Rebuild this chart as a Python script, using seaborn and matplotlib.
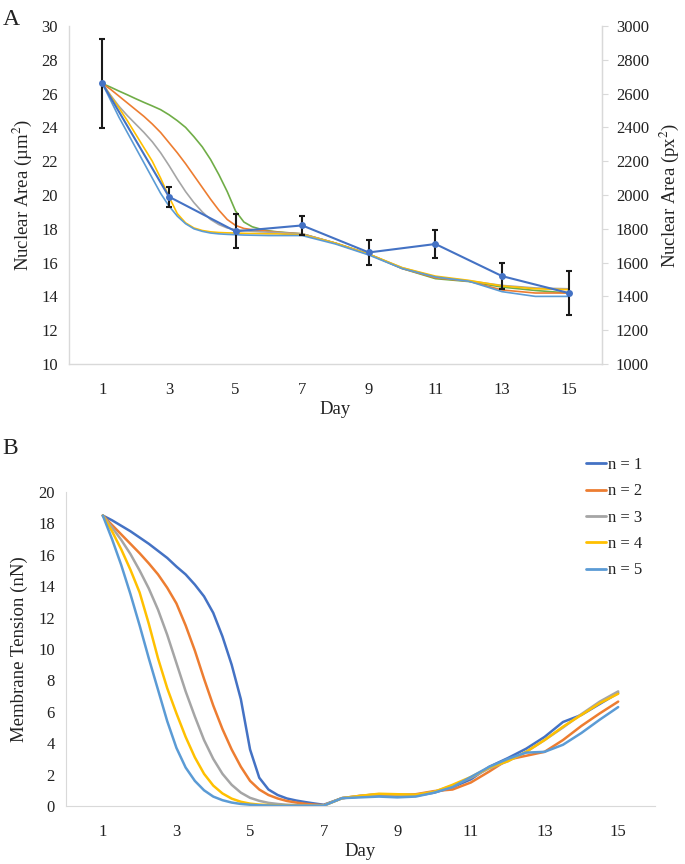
import pandas as pd
import matplotlib
matplotlib.use("Agg")
import matplotlib.pyplot as plt
import seaborn as sns

# ---- Panel A: nuclear area (smoothed model curves + measured means) ----
days_a = [1, 1.25, 1.5, 1.75, 2, 2.25, 2.5, 2.75, 3, 3.25, 3.5, 3.75, 4, 4.25, 4.5, 4.75,
          5, 5.25, 5.5, 5.75, 6, 6.25, 6.5, 6.75, 7, 8, 9, 10, 11, 12, 13, 14, 15]
area_green = [26.6, 26.38, 26.15, 25.93, 25.7, 25.48, 25.27, 25.05, 24.75, 24.4, 24.0, 23.45,
              22.85, 22.1, 21.2, 20.2, 19.05, 18.4, 18.12, 17.98, 17.88, 17.82, 17.78, 17.74,
              17.7, 17.15, 16.5, 15.65, 15.05, 14.88, 14.55, 14.35, 14.2]
area_orange = [26.6, 26.25, 25.85, 25.45, 25.05, 24.65, 24.2, 23.7, 23.1, 22.5, 21.85, 21.15,
               20.45, 19.75, 19.1, 18.55, 18.2, 18.02, 17.95, 17.9, 17.85, 17.8, 17.76, 17.73,
               17.7, 17.15, 16.5, 15.65, 15.1, 14.9, 14.38, 14.2, 14.2]
area_gray = [26.6, 25.9, 25.25, 24.7, 24.2, 23.7, 23.15, 22.5, 21.75, 20.95, 20.2, 19.55,
             19.0, 18.55, 18.25, 18.05, 17.95, 17.9, 17.85, 17.82, 17.8, 17.78, 17.75, 17.72,
             17.7, 17.15, 16.5, 15.7, 15.15, 14.92, 14.65, 14.5, 14.45]
area_yellow = [26.6, 25.85, 25.15, 24.4, 23.6, 22.8, 22.0, 21.0, 19.9, 18.9, 18.35, 18.05,
               17.9, 17.82, 17.78, 17.76, 17.75, 17.73, 17.72, 17.71, 17.7, 17.7, 17.68, 17.66,
               17.65, 17.15, 16.5, 15.7, 15.2, 14.95, 14.62, 14.45, 14.4]
area_ltblue = [26.6, 25.6, 24.6, 23.7, 22.8, 21.9, 21.0, 20.1, 19.35, 18.75, 18.3, 18.0,
               17.85, 17.75, 17.7, 17.67, 17.65, 17.63, 17.62, 17.61, 17.6, 17.6, 17.6, 17.6,
               17.6, 17.1, 16.45, 15.65, 15.15, 14.9, 14.28, 14.0, 14.0]

obs_days = [1, 3, 5, 7, 9, 11, 13, 15]
obs_mean = [26.6, 19.9, 17.85, 18.2, 16.6, 17.1, 15.2, 14.2]
obs_err = [2.65, 0.6, 1.0, 0.58, 0.75, 0.82, 0.75, 1.3]

# ---- Panel B: membrane tension ----
days_b = [1, 1.25, 1.5, 1.75, 2, 2.25, 2.5, 2.75, 3, 3.25, 3.5, 3.75, 4, 4.25, 4.5, 4.75,
          5, 5.25, 5.5, 5.75, 6, 6.25, 6.5, 6.75, 7, 7.5, 8, 8.5, 9, 9.5,
          10, 10.5, 11, 11.5, 12, 12.5, 13, 13.5, 14, 14.5, 15]
tension_n1 = [18.5, 18.2, 17.85, 17.5, 17.1, 16.7, 16.25, 15.8, 15.25, 14.75, 14.1, 13.35,
              12.3, 10.8, 9.0, 6.8, 3.6, 1.8, 1.05, 0.7, 0.48, 0.35, 0.25, 0.16, 0.08,
              0.5, 0.6, 0.68, 0.65, 0.65, 0.85, 1.2, 1.7, 2.5, 3.05, 3.65, 4.4, 5.35, 5.8, 6.5, 7.2]
tension_n2 = [18.5, 17.9, 17.3, 16.7, 16.1, 15.45, 14.75, 13.9, 12.9, 11.5, 9.9, 8.1,
              6.4, 4.9, 3.6, 2.5, 1.6, 1.05, 0.7, 0.48, 0.32, 0.22, 0.14, 0.09, 0.05,
              0.5, 0.65, 0.75, 0.7, 0.75, 0.95, 1.05, 1.5, 2.2, 2.95, 3.2, 3.45, 4.2, 5.1, 5.9, 6.65]
tension_n3 = [18.5, 17.75, 16.95, 16.05, 15.0, 13.85, 12.5, 10.9, 9.1, 7.3, 5.7, 4.2,
              3.0, 2.05, 1.35, 0.85, 0.52, 0.33, 0.2, 0.13, 0.08, 0.06, 0.04, 0.03, 0.03,
              0.5, 0.65, 0.75, 0.72, 0.7, 0.9, 1.3, 1.8, 2.4, 2.85, 3.45, 4.2, 5.0, 5.85, 6.65, 7.3]
tension_n4 = [18.5, 17.5, 16.35, 15.05, 13.6, 11.6, 9.4, 7.5, 5.9, 4.4, 3.1, 2.05,
              1.3, 0.8, 0.47, 0.27, 0.15, 0.09, 0.06, 0.04, 0.03, 0.02, 0.02, 0.02, 0.02,
              0.5, 0.65, 0.78, 0.75, 0.72, 0.9, 1.35, 1.85, 2.45, 2.85, 3.45, 4.2, 5.05, 5.8, 6.55, 7.15]
tension_n5 = [18.5, 17.0, 15.35, 13.5, 11.5, 9.4, 7.4, 5.4, 3.7, 2.45, 1.6, 1.0,
              0.6, 0.37, 0.22, 0.13, 0.08, 0.05, 0.03, 0.02, 0.02, 0.02, 0.02, 0.02, 0.02,
              0.5, 0.55, 0.6, 0.55, 0.6, 0.85, 1.2, 1.85, 2.5, 3.0, 3.4, 3.45, 3.9, 4.65, 5.5, 6.3]
n_labels = ["n = 1", "n = 2", "n = 3", "n = 4", "n = 5"]

day_ticks = [1, 3, 5, 7, 9, 11, 13, 15]

sns.set_style("white")
plt.rcParams['font.family'] = ['Liberation Serif', 'DejaVu Serif']
plt.rcParams['mathtext.fontset'] = 'stix'

fig = plt.figure(figsize=(6.85, 8.64), dpi=100)
grey = "#D9D9D9"
txt = "#222222"
tick_fs = 12
lab_fs = 13.5

# ---------------- Panel A ----------------
axA = fig.add_axes([69 / 685, 1 - 364 / 864, (602 - 69) / 685, (364 - 26) / 864])
dfA = pd.DataFrame({
    "day": days_a * 5,
    "area": area_green + area_orange + area_gray + area_yellow + area_ltblue,
    "curve": (["g"] * len(days_a) + ["o"] * len(days_a) + ["gr"] * len(days_a)
              + ["y"] * len(days_a) + ["lb"] * len(days_a)),
})
palA = {"g": "#70AD47", "o": "#ED7D31", "gr": "#A5A5A5", "y": "#FFC000", "lb": "#5B9BD5"}
sns.lineplot(data=dfA, x="day", y="area", hue="curve", palette=palA, ax=axA,
             linewidth=1.2, legend=False, sort=False)
axA.errorbar(obs_days, obs_mean, yerr=obs_err, fmt="none", ecolor="#1a1a1a",
             elinewidth=1.5, capsize=2.5, capthick=1.5, zorder=4)
sns.lineplot(x=obs_days, y=obs_mean, ax=axA, color="#4472C4", linewidth=1.5,
             marker="o", markersize=5, markeredgewidth=0, zorder=5)

axA.set_xlim(0, 16)
axA.set_ylim(10, 30)
axA.set_xticks(day_ticks)
axA.set_yticks(range(10, 31, 2))
axA.tick_params(axis="both", length=0, labelsize=tick_fs, colors=txt, pad=8)
axA.tick_params(axis="x", pad=13)
axA.set_xlabel("Day", fontsize=lab_fs, color=txt, labelpad=2)
axA.set_ylabel("Nuclear Area (µm$^2$)", fontsize=lab_fs, color=txt, labelpad=5)
axA.spines["top"].set_visible(False)
for s in ["left", "bottom", "right"]:
    axA.spines[s].set_color(grey)
    axA.spines[s].set_linewidth(1)

axA2 = axA.twinx()
axA2.set_ylim(1000, 3000)
axA2.set_yticks(range(1000, 3001, 200))
axA2.tick_params(axis="y", length=4, color=grey, labelsize=tick_fs, labelcolor=txt, pad=6)
axA2.set_ylabel("Nuclear Area (px$^2$)", fontsize=lab_fs, color=txt, labelpad=6)
for s in ["top", "left", "bottom"]:
    axA2.spines[s].set_visible(False)
axA2.spines["right"].set_color(grey)

fig.text(0.004, 0.99, "A", fontsize=17, va="top", ha="left", color=txt)

# ---------------- Panel B ----------------
axB = fig.add_axes([66 / 685, 1 - 806 / 864, (655 - 66) / 685, (806 - 492) / 864])
dfB = pd.DataFrame({
    "day": days_b * 5,
    "tension": tension_n1 + tension_n2 + tension_n3 + tension_n4 + tension_n5,
    "n": sum([[lab] * len(days_b) for lab in n_labels], []),
})
palB = dict(zip(n_labels, ["#4472C4", "#ED7D31", "#A5A5A5", "#FFC000", "#5B9BD5"]))
sns.lineplot(data=dfB, x="day", y="tension", hue="n", palette=palB, ax=axB,
             linewidth=1.8, sort=False)

axB.set_xlim(0, 16)
axB.set_ylim(0, 20)
axB.set_xticks(day_ticks)
axB.set_yticks(range(0, 21, 2))
axB.tick_params(axis="both", length=0, labelsize=tick_fs, colors=txt, pad=8)
axB.tick_params(axis="x", pad=13)
axB.set_xlabel("Day", fontsize=lab_fs, color=txt, labelpad=2)
axB.set_ylabel("Membrane Tension (nN)", fontsize=lab_fs, color=txt, labelpad=7)
for s in ["top", "right"]:
    axB.spines[s].set_visible(False)
for s in ["left", "bottom"]:
    axB.spines[s].set_color(grey)

leg = axB.legend(loc="upper left", bbox_to_anchor=(586 / 685, 1 - 457 / 864),
                 bbox_transform=fig.transFigure, frameon=False, fontsize=12,
                 handlelength=1.2, handletextpad=0.1, labelspacing=0.62,
                 borderaxespad=0, borderpad=0)
for line in leg.get_lines():
    line.set_linewidth(2)
for t in leg.get_texts():
    t.set_color(txt)

fig.text(0.004, 1 - 438 / 864, "B", fontsize=17, va="top", ha="left", color=txt)

fig.savefig("out.png", dpi=100)
